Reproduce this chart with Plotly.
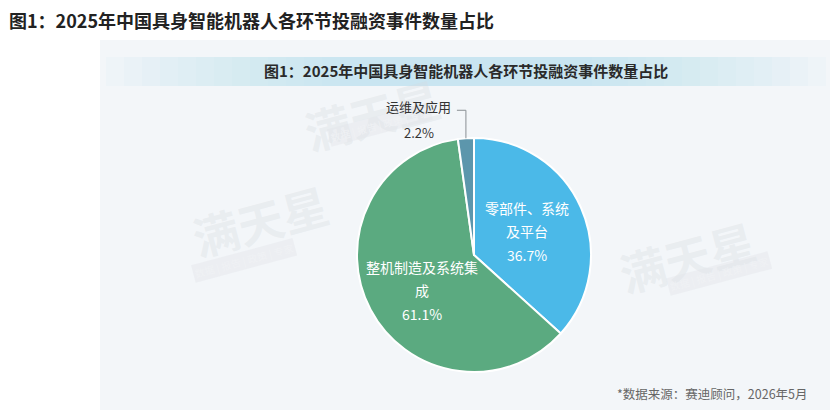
import math
import plotly.graph_objects as go

# ---- data ----
labels = ["零部件、系统及平台", "整机制造及系统集成", "运维及应用"]
values = [36.7, 61.1, 2.2]
label_lines = [["零部件、系统", "及平台"], ["整机制造及系统集", "成"], ["运维及应用"]]
inside = [True, True, False]
colors = ["#4bb9e8", "#5baa80", "#5c96ac"]

outer_title = "图1：2025年中国具身智能机器人各环节投融资事件数量占比"
inner_title = "图1：2025年中国具身智能机器人各环节投融资事件数量占比"
source = "*数据来源：赛迪顾问，2026年5月"

W, H = 830, 410
FONT = "Noto Sans CJK SC"

# pie geometry (pixels)
cx, cy, R = 474, 255, 117


def px(x):
    return x / W


def py(y):
    return 1 - y / H


dom_x = [px(cx - 160), px(cx + 160)]
dom_y = [py(cy + R), py(cy - R)]

fig = go.Figure()
fig.add_trace(go.Pie(
    labels=labels, values=values, sort=False, direction="clockwise", rotation=0,
    marker=dict(colors=colors, line=dict(color="white", width=2)),
    textinfo="none", hoverinfo="label+percent", showlegend=False,
    domain=dict(x=dom_x, y=dom_y),
))

shapes = []
annotations = []

# panel background
shapes.append(dict(type="rect", xref="paper", yref="paper", x0=px(100), x1=1, y0=0, y1=py(40),
                   fillcolor="#f3f6f9", line=dict(width=0), layer="below"))
# title band (fake horizontal gradient)
steps = 14
for s in range(steps):
    half = 360 - s * 18
    shapes.append(dict(type="rect", xref="paper", yref="paper", x0=px(466 - half), x1=px(466 + half),
                       y0=py(86), y1=py(57), fillcolor="rgba(190,226,245,0.07)",
                       line=dict(width=0), layer="below"))

# watermarks
for (wx, wy) in [(182, 220), (765, 256), (372, 62)]:
    annotations.append(dict(xref="paper", yref="paper", x=px(wx), y=py(wy), text="<b>满天星</b>",
                            showarrow=False, textangle=-15,
                            font=dict(family=FONT, size=46, color="rgba(214,218,223,0.32)")))
    annotations.append(dict(xref="paper", yref="paper", x=px(wx + 8), y=py(wy + 40),
                            text="数据 | 报告 | 政策 | 专家", showarrow=False, textangle=-15,
                            font=dict(family=FONT, size=10, color="rgba(240,242,245,0.9)"),
                            bgcolor="rgba(224,228,232,0.4)"))

# titles
annotations.append(dict(xref="paper", yref="paper", x=px(7), y=py(20), xanchor="left", yanchor="middle",
                        text="<b>%s</b>" % outer_title, showarrow=False,
                        font=dict(family=FONT, size=18, color="#222222")))
annotations.append(dict(xref="paper", yref="paper", x=px(466), y=py(71), xanchor="center", yanchor="middle",
                        text="<b>%s</b>" % inner_title, showarrow=False,
                        font=dict(family=FONT, size=15, color="#2a2a2a")))
annotations.append(dict(xref="paper", yref="paper", x=px(810), y=py(393), xanchor="right", yanchor="middle",
                        text=source, showarrow=False,
                        font=dict(family=FONT, size=12.5, color="#666666")))

# slice labels computed from the values
total = sum(values)
cum = 0.0
for i, v in enumerate(values):
    mid = (cum + v / 2) / total * 2 * math.pi
    cum += v
    pct = "%.1f%%" % (v / total * 100)
    lines = label_lines[i] + [pct]
    if inside[i]:
        lx = cx + 0.5 * R * math.sin(mid)
        ly = cy - 0.5 * R * math.cos(mid)
        ly += 8 if math.cos(mid) < 0 else 0
        n = len(lines)
        for k, t in enumerate(lines):
            yy = ly + (k - (n - 1) / 2) * 23.5
            annotations.append(dict(xref="paper", yref="paper", x=px(lx), y=py(yy), text=t,
                                    showarrow=False, xanchor="center", yanchor="middle",
                                    font=dict(family=FONT, size=14, color="white")))
    else:
        ex = cx + R * math.sin(mid)
        ey = cy - R * math.cos(mid)
        ky = ey - 28
        kx = ex - 9
        shapes.append(dict(type="path", xref="paper", yref="paper",
                           path="M %f %f L %f %f L %f %f" % (px(ex), py(ey), px(ex), py(ky), px(kx), py(ky)),
                           line=dict(color="#8a8f94", width=1)))
        tx = kx - 38
        for k, t in enumerate(lines):
            yy = ky - 4 + k * 26
            annotations.append(dict(xref="paper", yref="paper", x=px(tx), y=py(yy), text=t,
                                    showarrow=False, xanchor="center", yanchor="middle",
                                    font=dict(family=FONT, size=13, color="#333333")))

fig.update_layout(
    width=W, height=H, margin=dict(l=0, r=0, t=0, b=0),
    paper_bgcolor="white", plot_bgcolor="white",
    shapes=shapes, annotations=annotations,
)
fig.write_html("out.html", config={"displayModeBar": False},
               post_script="document.body.style.margin='0';document.body.style.overflow='hidden';")
